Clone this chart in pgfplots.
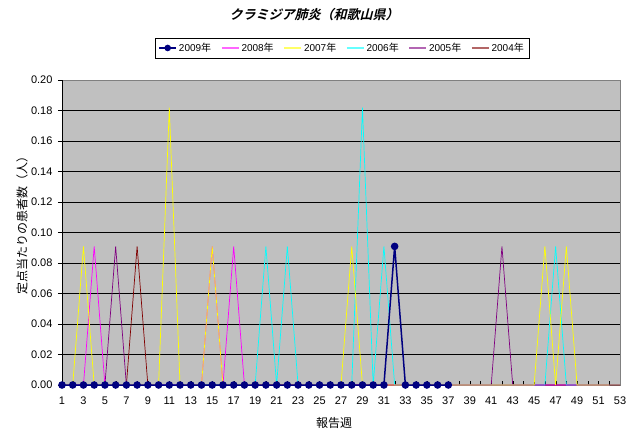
\documentclass[border=0pt]{standalone}
\usepackage{fontspec}
\setmainfont{Liberation Sans}
\newfontfamily\cjk{Noto Sans CJK JP}
\newfontfamily\cjktitle[FakeSlant=0.25]{Noto Sans CJK JP Bold}
\usepackage{pgfplots}
\pgfplotsset{compat=1.18}
\definecolor{bg}{RGB}{192,192,192}
\definecolor{c09}{RGB}{0,0,128}
\definecolor{c08}{RGB}{255,0,255}
\definecolor{c07}{RGB}{255,255,0}
\definecolor{c06}{RGB}{0,255,255}
\definecolor{c05}{RGB}{128,0,128}
\definecolor{c04}{RGB}{128,0,0}
\begin{document}
\begin{tikzpicture}[x=1pt,y=1pt]
\begin{axis}[
  scale only axis, width=558pt, height=305pt,
  at={(0pt,0pt)}, anchor=south west,
  xmin=1, xmax=53, ymin=0, ymax=0.2,
  xtick={1,...,53},
  xticklabels={1,,3,,5,,7,,9,,11,,13,,15,,17,,19,,21,,23,,25,,27,,29,,31,,33,,35,,37,,39,,41,,43,,45,,47,,49,,51,,53},
  ytick={0,0.02,...,0.2001},
  yticklabel style={/pgf/number format/fixed,/pgf/number format/fixed zerofill,/pgf/number format/precision=2},
  /pgf/number format/assume math mode=true,
  tick label style={font=\fontsize{11}{13}\selectfont},
  xticklabel shift=8pt,
  yticklabel shift=2pt,
  xtick pos=bottom, ytick pos=left,
  major tick length=4pt,
  x tick style={black}, xtick align=inside,
  y tick style={black}, ytick align=outside,
  ymajorgrids, grid style={black, line width=0.6pt},
  axis background/.style={fill=bg},
  axis line style={draw=gray, line width=0.8pt},
  clip=false,
  legend style={at={(0.502,1.105)}, anchor=center, legend columns=6, draw=black, fill=white,
    font=\fontsize{10}{12}\selectfont, /tikz/every even column/.append style={column sep=8pt},
    inner sep=3pt},
  legend image post style={},
  legend cell align=left,
]
\addlegendimage{c09, line width=1.5pt, mark=*, mark size=2.5pt, mark options={fill=c09}}
\addlegendentry{2009\cjk{年}}
\addlegendimage{c08!60!white, line width=1.2pt}
\addlegendentry{2008\cjk{年}}
\addlegendimage{c07!60!white, line width=1.2pt}
\addlegendentry{2007\cjk{年}}
\addlegendimage{c06!60!white, line width=1.2pt}
\addlegendentry{2006\cjk{年}}
\addlegendimage{c05!60!white, line width=1.2pt}
\addlegendentry{2005\cjk{年}}
\addlegendimage{c04!60!white, line width=1.2pt}
\addlegendentry{2004\cjk{年}}

% 2004
\addplot[c04, line width=0.7pt, forget plot] coordinates {
(1,0)(2,0)(3,0)(4,0)(5,0)(6,0)(7,0)(8,0.0909)(9,0)(10,0)(11,0)(12,0)(13,0)(14,0)(15,0)(16,0)(17,0)(18,0)(19,0)(20,0)(21,0)(22,0)(23,0)(24,0)(25,0)(26,0)(27,0)(28,0)(29,0)(30,0)(31,0)(32,0)(33,0)(34,0)(35,0)(36,0)(37,0)(38,0)(39,0)(40,0)(41,0)(42,0)(43,0)(44,0)(45,0)(46,0)(47,0)(48,0)(49,0)(50,0)(51,0)(52,0)(53,0)};
% 2005
\addplot[c05, line width=0.7pt, forget plot] coordinates {
(1,0)(2,0)(3,0)(4,0)(5,0)(6,0.0909)(7,0)(8,0)(9,0)(10,0)(11,0)(12,0)(13,0)(14,0)(15,0)(16,0)(17,0)(18,0)(19,0)(20,0)(21,0)(22,0)(23,0)(24,0)(25,0)(26,0)(27,0)(28,0)(29,0)(30,0)(31,0)(32,0)(33,0)(34,0)(35,0)(36,0)(37,0)(38,0)(39,0)(40,0)(41,0)(42,0.0909)(43,0)(44,0)(45,0)(46,0)(47,0)(48,0)(49,0)(50,0)(51,0)(52,0)};
% 2006
\addplot[c06, line width=0.7pt, forget plot] coordinates {
(1,0)(2,0)(3,0)(4,0)(5,0)(6,0)(7,0)(8,0)(9,0)(10,0)(11,0)(12,0)(13,0)(14,0)(15,0)(16,0)(17,0)(18,0)(19,0)(20,0.0909)(21,0)(22,0.0909)(23,0)(24,0)(25,0)(26,0)(27,0)(28,0)(29,0.1818)(30,0)(31,0.0909)(32,0)(33,0)(34,0)(35,0)(36,0)(37,0)(38,0)(39,0)(40,0)(41,0)(42,0)(43,0)(44,0)(45,0)(46,0)(47,0.0909)(48,0)(49,0)(50,0)(51,0)(52,0)};
% 2008
\addplot[c08, line width=0.7pt, forget plot] coordinates {
(1,0)(2,0)(3,0)(4,0.0909)(5,0)(6,0)(7,0)(8,0)(9,0)(10,0)(11,0)(12,0)(13,0)(14,0)(15,0.0909)(16,0)(17,0.0909)(18,0)(19,0)(20,0)(21,0)(22,0)(23,0)(24,0)(25,0)(26,0)(27,0)(28,0)(29,0)(30,0)(31,0)(32,0)(33,0)(34,0)(35,0)(36,0)(37,0)(38,0)(39,0)(40,0)(41,0)(42,0)(43,0)(44,0)(45,0)(46,0)(47,0)(48,0)(49,0)(50,0)(51,0)(52,0)};
% 2007
\addplot[c07, line width=0.7pt, forget plot] coordinates {
(1,0)(2,0)(3,0.0909)(4,0)(5,0)(6,0)(7,0)(8,0)(9,0)(10,0)(11,0.1818)(12,0)(13,0)(14,0)(15,0.0909)(16,0)(17,0)(18,0)(19,0)(20,0)(21,0)(22,0)(23,0)(24,0)(25,0)(26,0)(27,0)(28,0.0909)(29,0)(30,0)(31,0)(32,0)(33,0)(34,0)(35,0)(36,0)(37,0)(38,0)(39,0)(40,0)(41,0)(42,0)(43,0)(44,0)(45,0)(46,0.0909)(47,0)(48,0.0909)(49,0)(50,0)(51,0)(52,0)};
% 2009
\addplot[c09, line width=1.5pt, mark=*, mark size=3pt, mark options={fill=c09}, forget plot] coordinates {
(1,0)(2,0)(3,0)(4,0)(5,0)(6,0)(7,0)(8,0)(9,0)(10,0)(11,0)(12,0)(13,0)(14,0)(15,0)(16,0)(17,0)(18,0)(19,0)(20,0)(21,0)(22,0)(23,0)(24,0)(25,0)(26,0)(27,0)(28,0)(29,0)(30,0)(31,0)(32,0.0909)(33,0)(34,0)(35,0)(36,0)(37,0)};
\draw[black, line width=0.8pt] (rel axis cs:0,0) -- (rel axis cs:0,1);
\end{axis}
\node[font=\cjktitle\fontsize{13}{15}\selectfont] at (252pt,370pt) {クラミジア肺炎（和歌山県）};
\node[font=\cjk\fontsize{12}{14}\selectfont, rotate=90] at (-40pt,163pt) {定点当たりの患者数（人）};
\node[font=\cjk\fontsize{12}{14}\selectfont] at (272pt,-38pt) {報告週};
\pgfresetboundingbox
\path (-62pt,-52pt) rectangle (578pt,385pt);
\end{tikzpicture}
\end{document}
